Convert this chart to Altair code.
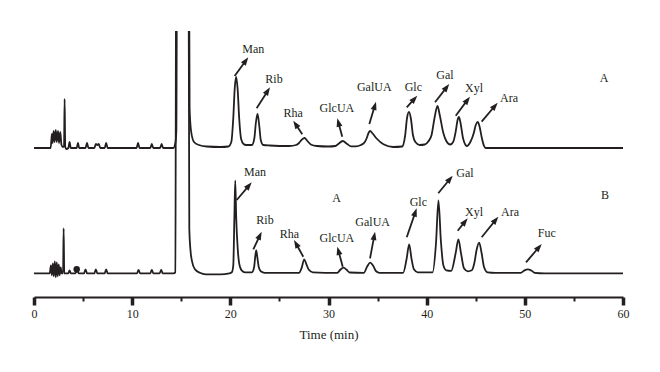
import numpy as np
import pandas as pd
import altair as alt

INK = "#231f20"
SERIF = "Liberation Serif"

# ---- trace A (upper chromatogram): retention time (min) and signal above its baseline
a_time = [0, 1.7, 1.82, 1.9, 2.0, 2.1, 2.22, 2.32, 2.45, 2.55, 2.68, 2.8, 2.95, 3.06, 3.12, 3.18, 3.3, 3.5,
          3.62, 3.75, 4.35, 4.48, 4.6, 5.25, 5.4, 5.55, 6.15, 6.3, 6.45, 6.6, 6.75, 7.2, 7.35, 7.5, 10.45, 10.6,
          10.75, 11.85, 12.0, 12.15, 12.85, 13.0, 13.15, 14.2, 14.4, 14.5, 14.62, 15.72, 15.85, 16.0, 16.3, 16.8,
          17.6, 19.0, 19.8, 20.1, 20.3, 20.45, 20.6, 20.75, 20.9, 21.1, 21.35, 21.6, 22.2, 22.45, 22.6, 22.77,
          22.95, 23.1, 23.35, 24.0, 26.0, 26.7, 27.0, 27.3, 27.56, 27.85, 28.2, 28.8, 30.0, 30.7, 31.0, 31.45,
          31.9, 32.3, 32.8, 33.3, 33.7, 33.9, 34.1, 34.25, 34.45, 34.9, 35.6, 36.6, 37.5, 37.8, 38.0, 38.2, 38.4,
          38.6, 38.85, 39.3, 39.8, 40.2, 40.5, 40.8, 41.1, 41.35, 41.7, 42.0, 42.4, 42.7, 42.95, 43.15, 43.28,
          43.45, 43.7, 44.1, 44.45, 44.8, 45.0, 45.2, 45.4, 45.62, 45.85, 46.0, 60]
a_signal = [0, 0, 14, 5, 17, 6, 18, 6, 17, 5, 16, 3, 1, 2, 49, 1, -1, 0,
            6, 0, 0, 5, 0, 0, 5, 0, 0, 4, 3, 4, 0, 0, 5, 0, 0, 5,
            0, 0, 4, 0, 0, 4, 0, 0, 5, 17, 400, 400, 40, 17, 6, 3,
            1.5, 1, 1.5, 6, 30, 60, 71, 58, 30, 9, 4, 3, 3, 10, 25, 34,
            22, 8, 3, 2.5, 2, 3, 5, 8.5, 10, 7, 3.5, 2, 1.5, 2, 4, 7,
            4, 1.7, 1.7, 3, 6, 10, 15.5, 17, 15, 9.5, 3.7, 1, 1.5, 12, 30, 36, 29,
            13, 6, 3, 3.5, 7, 13, 30, 42, 32, 15, 7, 3.5, 6, 16, 28, 31,
            25, 10, 2, 6, 15, 23, 26, 21, 10, 2, 0, 0]

# ---- trace B (lower chromatogram)
b_time = [0, 1.6, 1.72, 1.82, 1.92, 2.02, 2.12, 2.22, 2.32, 2.42, 2.52, 2.62, 2.72, 2.82, 2.96, 3.02, 3.08,
          3.5, 3.62, 3.75, 4.2, 4.38, 4.55, 5.1, 5.25, 5.4, 6.15, 6.3, 6.45, 7.2, 7.35, 7.5, 10.5, 10.65, 10.8,
          11.85, 12.0, 12.15, 12.8, 12.96, 13.1, 14.2, 14.4, 14.5, 15.72, 15.82, 15.95, 16.1, 16.4, 16.9, 17.5,
          19.0, 19.9, 20.15, 20.3, 20.42, 20.5, 20.6, 20.75, 20.9, 21.15, 21.5, 22.2, 22.42, 22.55, 22.64, 22.75,
          22.9, 23.1, 23.5, 27.0, 27.25, 27.53, 27.75, 28.0, 28.4, 30.9, 31.2, 31.53, 31.85, 32.15, 33.6, 33.95,
          34.25, 34.55, 34.85, 35.2, 37.6, 37.95, 38.22, 38.45, 38.7, 39.1, 40.6, 40.95, 41.2, 41.45, 41.7, 42.0,
          42.5, 42.95, 43.23, 43.5, 43.8, 44.2, 44.6, 44.85, 45.1, 45.35, 45.6, 45.85, 46.2, 47.0, 49.6, 49.9,
          50.3, 50.7, 51.0, 52.0, 60]
b_signal = [0, 0, 8, -2, 10, -3, 12, -4, 11, -3, 9, -2, 6, 0, 0, 45, 0,
            0, 3, 0, 0, 3, 0, 0, 4, 0, 0, 4, 0, 0, 4, 0, 0, 3.5, 0,
            0, 3.5, 0, 0, 3.5, 0, 0, 1, 400, 400, 45, 22, 12, 4, 0.5, -1,
            -1, 0, 1, 8, 60, 92.6, 55, 25, 10, 3, 1, 1, 6, 18, 23, 16,
            6, 2, 0.5, 0.5, 5, 14, 9, 3.5, 1, 0.5, 3.5, 5.6, 3.5, 0.8, 0.5, 7,
            10.6, 7.5, 2, 0.5, 0.5, 14, 29, 15, 4, 1, 1, 30, 73, 32, 8, 3,
            2.5, 20, 34, 20, 5, 2, 3, 10, 24, 30.6, 20, 6, 1, 0.5, 0.5, 2.5,
            4, 2.5, 0.5, 0, 0]

A_OFFSET = 149.0
B_OFFSET = 23.7

# ---- peak labels and arrows (time, signal units)
a_lab = ["Man", "Rib", "Rha", "GlcUA", "GalUA", "Glc", "Gal", "Xyl", "Ara"]
a_lab_t = [22.34, 24.45, 26.41, 30.86, 34.66, 38.64, 41.87, 44.82, 48.39]
a_lab_y = [247.7, 217.7, 184.3, 188.7, 210.3, 210.3, 222.0, 208.7, 198.7]
a_arr_t1 = [20.44, 22.68, 27.33, 31.40, 34.16, 37.97, 40.85, 42.96, 45.60]
a_arr_y1 = [221.0, 188.7, 162.7, 160.3, 173.0, 189.7, 194.7, 181.3, 175.3]
a_arr_t2 = [21.83, 24.04, 26.41, 30.90, 34.84, 39.04, 42.30, 44.41, 47.23]
a_arr_y2 = [239.7, 209.7, 176.3, 178.7, 195.3, 201.3, 213.0, 200.3, 194.3]

b_lab = ["Man", "Rib", "Rha", "GlcUA", "GalUA", "Glc", "Gal", "Xyl", "Ara", "Fuc"]
b_lab_t = [22.51, 23.53, 26.01, 30.86, 34.50, 39.15, 43.90, 44.82, 48.49, 52.23]
b_lab_y = [125.3, 77.0, 62.7, 58.7, 74.7, 95.3, 124.3, 85.3, 85.3, 64.3]
b_arr_t1 = [20.65, 22.34, 27.43, 31.45, 34.23, 37.97, 41.18, 43.16, 45.60, 50.12]
b_arr_y1 = [97.0, 47.7, 40.3, 30.3, 38.7, 59.7, 103.7, 66.3, 59.7, 34.7]
b_arr_t2 = [22.18, 23.19, 26.49, 30.90, 34.74, 38.98, 42.65, 44.18, 47.30, 51.72]
b_arr_y2 = [114.7, 65.3, 57.0, 50.3, 65.3, 88.7, 121.3, 78.7, 80.3, 53.0]

panel_lab = ["A", "B", "A"]
panel_t = [58.06, 58.16, 30.83]
panel_y = [219.0, 102.0, 99.3]

dot_t = [4.35]
dot_y = [27.7]

# ---- geometry of the plot area
W, H = 589, 266
Y_MAX = 266
PX_PER_MIN = W / 60.0
PX_PER_UNIT = H / Y_MAX

lines = pd.concat([
    pd.DataFrame({"t": a_time, "y": np.array(a_signal) + A_OFFSET, "trace": "A"}),
    pd.DataFrame({"t": b_time, "y": np.array(b_signal) + B_OFFSET, "trace": "B"}),
])

arr = pd.DataFrame({
    "t1": a_arr_t1 + b_arr_t1, "y1": a_arr_y1 + b_arr_y1,
    "t2": a_arr_t2 + b_arr_t2, "y2": a_arr_y2 + b_arr_y2,
})
dx = (arr.t2 - arr.t1) * PX_PER_MIN
dy = (arr.y2 - arr.y1) * PX_PER_UNIT
length = np.hypot(dx, dy)
arr["ang"] = np.degrees(np.arctan2(dx, dy)) % 360
# stop the shaft a little before the tip so the head stays sharp
arr["t2s"] = arr.t2 - dx / length * 4 / PX_PER_MIN
arr["y2s"] = arr.y2 - dy / length * 4 / PX_PER_UNIT

labels = pd.DataFrame({
    "label": a_lab + b_lab + panel_lab,
    "t": a_lab_t + b_lab_t + panel_t,
    "y": a_lab_y + b_lab_y + panel_y,
})
dots = pd.DataFrame({"t": dot_t, "y": dot_y})

xscale = alt.Scale(domain=[0, 60], nice=False, zero=False)
yscale = alt.Scale(domain=[0, Y_MAX], nice=False, zero=False)
xaxis = alt.Axis(
    values=list(range(0, 61, 5)),
    title="Time (min)",
    grid=False,
    labelExpr="datum.value % 10 === 0 ? datum.label : ''",
    labelFlush=False,
    labelOverlap=False,
    labelFont=SERIF, labelFontSize=12, labelColor=INK, labelPadding=3,
    titleFont=SERIF, titleFontSize=13, titleFontWeight="normal", titleColor=INK, titlePadding=9,
    domainColor=INK, domainWidth=2,
    tickColor=INK,
    tickWidth={"condition": {"test": "datum.value % 10 === 0", "value": 3.5}, "value": 2},
    tickSize={"condition": {"test": "datum.value % 10 === 0", "value": 8}, "value": 4},
)

trace_layer = alt.Chart(lines).mark_line(
    interpolate="monotone", clip=True, strokeWidth=1.8, color=INK
).encode(
    x=alt.X("t:Q", scale=xscale, axis=xaxis),
    y=alt.Y("y:Q", scale=yscale, axis=None),
    detail="trace:N",
)

shaft_layer = alt.Chart(arr).mark_rule(strokeWidth=1.8, color=INK).encode(
    x=alt.X("t1:Q", scale=xscale, axis=xaxis),
    y=alt.Y("y1:Q", scale=yscale, axis=None),
    x2="t2s:Q", y2="y2s:Q",
)

head_layer = alt.Chart(arr).mark_point(
    shape="M0,0L-0.75,2.1L0.75,2.1Z", filled=True, size=64, opacity=1, color=INK, strokeWidth=0
).encode(
    x=alt.X("t2:Q", scale=xscale, axis=xaxis),
    y=alt.Y("y2:Q", scale=yscale, axis=None),
    angle=alt.Angle("ang:Q", scale=None),
)

text_layer = alt.Chart(labels).mark_text(
    font=SERIF, fontSize=12, color=INK, align="center", baseline="middle"
).encode(
    x=alt.X("t:Q", scale=xscale, axis=xaxis),
    y=alt.Y("y:Q", scale=yscale, axis=None),
    text="label:N",
)

dot_layer = alt.Chart(dots).mark_point(
    shape="circle", filled=True, size=42, opacity=1, color=INK
).encode(
    x=alt.X("t:Q", scale=xscale, axis=xaxis),
    y=alt.Y("y:Q", scale=yscale, axis=None),
)

chart = alt.layer(trace_layer, shaft_layer, head_layer, text_layer, dot_layer).properties(
    width=W, height=H,
    padding={"left": 26, "top": 23, "right": 10, "bottom": 60},
    autosize=alt.AutoSizeParams(type="none"),
    background="white",
).configure_view(stroke=None)

chart.save("out.html", embed_options={"renderer": "svg", "actions": False})
